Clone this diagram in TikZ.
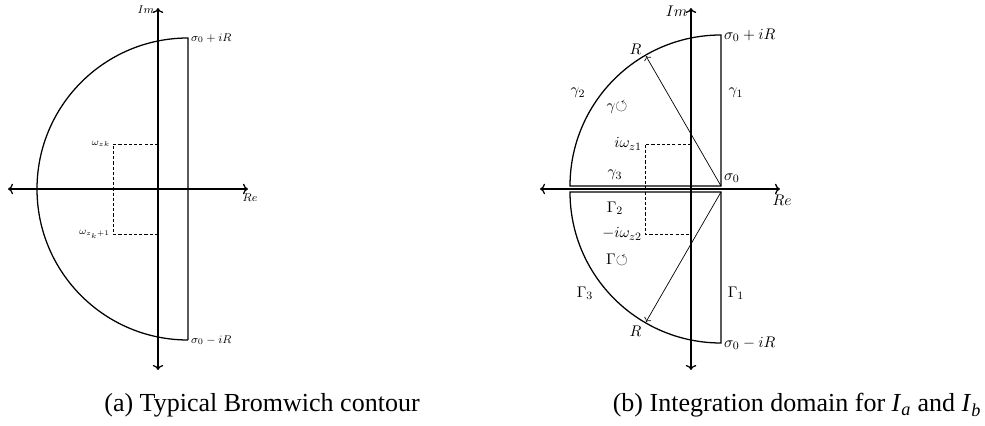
\documentclass[tikz,border=0pt]{standalone}
\usepackage{amsmath}
\usepackage{amssymb}
\usepackage{fontspec}
\newfontfamily\capfont{Liberation Serif}
\usetikzlibrary{arrows.meta,positioning,calc}

\begin{document}
\begin{tikzpicture}[x=0.025cm,y=0.025cm,
  axisline/.style={line width=0.9pt,<->},
  contourline/.style={line width=0.9pt},
  guideline/.style={line width=0.6pt,dash pattern=on 2.2pt off 1.5pt},
  radline/.style={line width=0.5pt,->},
  captext/.style={font=\fontsize{18.5}{22}\selectfont\capfont,anchor=base,inner sep=0pt}]
  \useasboundingbox (0,0) rectangle (985,426);
  % (a) Bromwich contour
  \begin{scope}[shift={(158,237)},font=\fontsize{8}{10}\selectfont]
    \draw[axisline] (-150,0) -- (90,0) coordinate (reA);
    \draw[axisline] (0,-181) -- (0,181) coordinate (imA);
    \draw[contourline] (30,-151) coordinate (lowA) -- (30,151) coordinate (topA)
      arc[start angle=90,end angle=270,radius=151];
    \draw[guideline] (0,45) -- (-45,45) coordinate (wk) -- (-45,-45) coordinate (wk1) -- (0,-45);
    \node[anchor=east,inner sep=1pt] (imlabA) at ($(imA)+(-2,-2)$) {$Im$};
    \node[anchor=north,inner sep=1pt] (relabA) at ($(reA)+(2,-3)$) {$Re$};
    \node[anchor=west,inner sep=2pt] (topsA) at (topA) {$\sigma_0+iR$};
    \node[anchor=west,inner sep=2pt] (lowsA) at (lowA) {$\sigma_0-iR$};
    \node[anchor=east,inner sep=2pt,font=\fontsize{7}{9}\selectfont] (wklab) at (wk) {$\omega_{zk}$};
    \node[anchor=east,inner sep=2pt,font=\fontsize{7}{9}\selectfont] (wk1lab) at (wk1) {$\omega_{z_k+1}$};
  \end{scope}
  % (b) integration domain
  \begin{scope}[shift={(691,237)},font=\fontsize{11}{13}\selectfont]
    \draw[axisline] (-151,0) -- (89,0) coordinate (reB);
    \draw[axisline] (0,-181) -- (0,181) coordinate (imB);
    \draw[contourline] (30,3) coordinate (s0) -- (30,154) coordinate (topB)
      arc[start angle=90,end angle=180,radius=151] -- cycle;
    \draw[contourline] (30,-3) coordinate (s0low) -- (30,-154) coordinate (lowB)
      arc[start angle=270,end angle=180,radius=151] -- cycle;
    \draw[radline] (s0) -- ++(120:150) coordinate (rUp);
    \draw[radline] (s0low) -- ++(240:150) coordinate (rLow);
    \draw[guideline] (0,45) -- (-46,45) coordinate (wz1) -- (-46,-45) coordinate (wz2) -- (0,-45);
    \node[above left,inner sep=1pt,xshift=-2pt] (rUplab) at (rUp) {$R$};
    \node[below left,inner sep=1pt,xshift=-2pt,yshift=-2pt] (rLowlab) at (rLow) {$R$};
    \node[anchor=east,inner sep=1pt] (imlabB) at ($(imB)+(-2,-3)$) {$Im$};
    \node[anchor=north,inner sep=1pt] (relabB) at ($(reB)+(2,-4)$) {$Re$};
    \node[anchor=west,inner sep=2pt] (topsB) at (topB) {$\sigma_0+iR$};
    \node[anchor=west,inner sep=2pt] (lowsB) at (lowB) {$\sigma_0-iR$};
    \node[anchor=south west,inner sep=2pt] (s0lab) at (s0) {$\sigma_0$};
    \node[anchor=east,inner sep=2pt] (wz1lab) at (wz1) {$i\omega_{z1}$};
    \node[anchor=east,inner sep=2pt] (wz2lab) at (wz2) {$-i\omega_{z2}$};
    \foreach \nm/\pos/\txt in {g1/{(45,96)}/{$\gamma_1$}, g2/{(-113,96)}/{$\gamma_2$},
        g3/{(-76,14)}/{$\gamma_3$}, g/{(-74,81)}/{$\gamma\mathord{\circlearrowleft}$},
        G1/{(45,-104)}/{$\Gamma_1$}, G2/{(-76,-19)}/{$\Gamma_2$},
        G3/{(-106,-104)}/{$\Gamma_3$}, G/{(-74,-71)}/{$\Gamma\mathord{\circlearrowleft}$}}
      \node (\nm) at \pos {\txt};
  \end{scope}
  \node[captext] (capA) at (262,14) {(a) Typical Bromwich contour};
  \node[captext] (capB) at (797,14) {(b) Integration domain for \textit{I}\textsubscript{\textit{a}} and \textit{I}\textsubscript{\textit{b}}};
\end{tikzpicture}
\end{document}
